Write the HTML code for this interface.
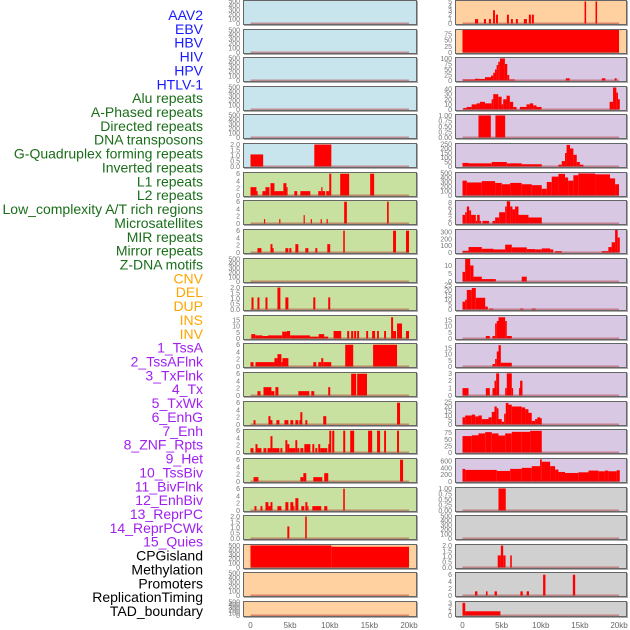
<!DOCTYPE html>
<html><head><meta charset="utf-8"><style>
html,body{margin:0;padding:0;background:#fff;width:630px;height:630px;overflow:hidden}
svg{display:block}
text{font-family:"Liberation Sans",sans-serif}
</style></head><body>
<svg id="chart" width="630" height="630" viewBox="0 0 630 630" xmlns="http://www.w3.org/2000/svg"></svg>
<script>
// ---- Left labels ----
const labelNames = ["AAV2","EBV","HBV","HIV","HPV","HTLV-1","Alu repeats","A-Phased repeats","Directed repeats","DNA transposons","G-Quadruplex forming repeats","Inverted repeats","L1 repeats","L2 repeats","Low_complexity A/T rich regions","Microsatellites","MIR repeats","Mirror repeats","Z-DNA motifs","CNV","DEL","DUP","INS","INV","1_TssA","2_TssAFlnk","3_TxFlnk","4_Tx","5_TxWk","6_EnhG","7_Enh","8_ZNF_Rpts","9_Het","10_TssBiv","11_BivFlnk","12_EnhBiv","13_ReprPC","14_ReprPCWk","15_Quies","CPGisland","Methylation","Promoters","ReplicationTiming","TAD_boundary"];
const labelGroups = [6,13,5,15,5]; // blue, green, orange, purple, black
const xTickLabels = ["0","5kb","10kb","15kb","20kb"];
const xTickValues = [0,5,10,15,20];

// ---- Column 1 data: [startKb, endKb, value] ----
const c1r5 = [[0,1.6,1.1],[8.05,10.2,2.0]];
const c1r6 = [[0,0.75,2.3],[0.75,0.88,1.2],[1.5,1.89,1.2],[1.89,2.39,2.3],[2.52,3.02,3.4],[3.02,4.15,1.2],[4.15,4.53,3.4],[4.53,4.65,2.3],[5.53,5.9,1.2],[6.29,7.55,1.2],[8.55,8.93,1.2],[8.93,9.06,2.3],[9.06,9.43,1.2],[9.56,9.94,1.2],[9.94,10.19,6],[11.32,12.45,6],[15.1,15.6,6]];
const c1r7 = [[1.7,1.85,1.2],[3.62,3.77,1.2],[6.7,6.85,2.3],[7.6,7.75,1.2],[8.85,9.0,1.2],[9.6,9.75,1.2],[11.82,12.16,6],[17.23,17.44,6]];
const c1r8 = [[0.88,1.38,1.2],[2.52,2.77,2.3],[2.77,2.9,1.2],[4.4,4.78,1.2],[4.9,5.16,1.2],[5.66,6.04,2.3],[6.92,7.3,1.2],[8.18,8.43,1.2],[9.69,10.06,2.3],[11.7,11.9,6],[17.99,18.36,6],[19.62,20,6]];
const c1r10 = [[0.13,0.38,1.1],[0.88,1.13,1.1],[1.89,2.14,1.1],[3.4,3.77,2.0],[4.4,4.78,1.1],[7.92,8.18,1.1],[9.81,10.06,1.1]];
const c1r11 = [[0.1,0.6,3.5],[0.6,1.5,2.5],[1.5,2.2,2],[2.2,3.4,2.5],[3.4,4.0,2.5],[4.0,4.6,5.5],[4.6,5.0,6],[5.0,6.5,2.5],[6.5,7.5,2.5],[7.5,8.6,1.5],[8.6,9.3,3.5],[9.3,9.8,1.5],[10.48,11.45,6],[12.2,12.45,6],[12.7,12.96,6],[13.08,13.33,6],[13.46,13.7,6],[14.6,14.84,6],[15.35,15.72,6],[15.97,16.2,6],[16.86,17.1,6],[17.74,17.99,17],[17.99,18.36,6],[18.49,19.12,12],[19.62,20,6]];
const c1r12 = [[0,0.38,1.2],[0.63,3.02,1.2],[3.02,3.4,2.3],[3.4,3.9,3.4],[3.9,4.03,1.2],[4.03,4.78,2.3],[7.92,8.3,1.2],[8.55,8.93,1.2],[8.93,9.18,2.3],[9.18,10.19,1.2],[11.95,12.96,6],[15.47,18.49,6]];
const c1r13 = [[0.88,1.26,1.2],[1.64,2.64,2.3],[2.64,3.02,1.2],[3.14,3.52,2.3],[6.04,7.42,1.2],[7.67,8.05,1.2],[9.81,10.06,2.3],[12.7,13.33,6],[13.46,14.7,6]];
const c1r14 = [[0.38,0.63,1.2],[2.26,2.52,2.3],[2.52,2.77,1.2],[3.27,3.65,1.2],[4.28,4.78,1.2],[5.03,5.4,1.2],[5.66,6.04,1.2],[6.16,6.41,1.2],[6.29,6.54,3.4],[6.92,7.17,1.2],[9.18,9.56,2.3],[18.49,18.87,6]];
const c1r15 = [[0,0.38,1.2],[0.63,0.88,2.3],[0.88,1.38,1.2],[1.64,2.0,1.2],[2.14,2.52,1.2],[2.52,2.77,4.5],[2.77,3.65,1.2],[3.77,4.03,1.2],[4.4,4.65,3.4],[4.65,4.9,2.3],[4.9,5.66,1.2],[5.66,5.9,3.4],[5.9,6.16,1.2],[6.29,6.67,1.2],[6.79,7.55,2.3],[7.8,8.05,2.3],[8.18,8.43,1.2],[8.55,8.8,2.3],[8.8,9.69,1.2],[9.81,10.06,2.3],[9.94,10.19,6],[10.31,10.57,6],[11.7,11.95,6],[12.58,13.08,6],[14.84,15.35,6],[15.97,16.35,6],[16.86,17.1,6],[18.49,18.74,6]];
const c1r16 = [[0.38,1.0,1.2],[6.29,6.67,1.2],[6.67,7.04,2.3],[7.92,9.06,1.2],[9.3,9.81,2.3],[18.87,19.25,6]];
const c1r17 = [[0.5,0.75,1.2],[1.26,1.5,1.2],[1.89,2.26,2.3],[2.26,2.52,1.2],[2.52,2.77,2.3],[3.4,3.9,1.2],[4.4,4.78,2.3],[5.03,5.4,2.3],[5.4,5.53,1.2],[5.66,6.04,3.4],[6.41,6.79,1.2],[6.92,7.17,2.3],[7.17,7.3,1.2],[7.8,8.93,1.2],[9.3,9.69,1.2],[11.7,11.9,6]];
const c1r18 = [[4.65,4.9,1.1],[6.9,7.1,2.0]];
const c1r19 = [[0,10.2,500],[10.2,20,470]];

// ---- Column 2 data ----
const c2r0 = [[1.6,2.0,1],[2.74,3.0,1],[3.38,3.64,1],[3.9,4.15,3],[4.27,4.53,2],[5.68,5.93,2],[6.19,6.44,1],[6.82,7.08,1],[7.84,8.23,1],[8.48,8.74,2],[8.86,9.12,2],[15.6,15.8,5],[17.0,17.2,5]];
const c2r1 = [[0,20,90]];
const c2r2 = [[0,1.6,5],[1.6,2.1,8],[2.1,2.87,7],[2.87,3.64,15],[3.64,3.93,22],[3.93,4.15,35],[4.15,4.36,50],[4.36,4.57,70],[4.57,4.78,85],[4.78,5.42,100],[5.42,5.72,75],[5.72,5.97,25],[5.97,6.7,5],[13.2,13.7,10],[17.8,18.26,10],[19.45,19.7,10]];
const c2r3 = [[0.1,0.53,3],[0.53,1.17,5],[1.17,1.8,10],[1.8,2.23,12],[2.23,2.87,15],[2.87,3.72,12],[3.72,3.93,20],[3.93,4.57,30],[4.57,5.0,25],[5.0,5.2,10],[5.2,5.63,20],[5.63,6.05,27],[6.05,6.48,15],[6.48,6.9,5],[7.33,8.18,5],[8.18,8.6,10],[8.6,9.03,12],[9.03,9.46,8],[9.46,10.1,5],[18.8,19.24,15],[19.24,19.66,43],[19.66,19.87,33],[19.87,20.1,20]];
const c2r4 = [[2.04,3.62,1],[4.21,5.45,1]];
const c2r5 = [[0,0.77,40],[0.77,3.74,35],[3.74,5.66,50],[5.66,7.57,35],[7.57,10.13,25],[12.26,12.68,20],[12.68,13.1,60],[13.1,13.3,150],[13.3,13.74,240],[13.74,14.17,200],[14.17,14.6,130],[14.6,15.0,50],[15.0,15.45,20]];
const c2r6 = [[0,0.55,330],[0.55,2.47,290],[2.47,4.17,320],[4.17,5.02,280],[5.02,6.09,250],[6.09,7.57,280],[7.57,8.85,250],[8.85,10.13,230],[10.13,10.77,150],[10.77,11.4,300],[11.4,12.26,420],[12.26,13.1,480],[13.1,13.5,400],[13.5,14.17,330],[14.17,14.8,450],[14.8,16.94,490],[16.94,18.85,470],[18.85,19.5,380],[19.5,20,250]];
const c2r7 = [[0,0.34,3.3],[0.34,0.55,4.3],[0.55,0.85,6.5],[0.85,1.1,5],[1.1,1.7,3.3],[1.7,1.87,1],[1.87,2.2,3.3],[2.2,2.38,1],[2.55,3.4,1],[3.83,4.17,1],[4.17,4.68,2.3],[4.68,5.45,4.3],[5.45,5.66,6.5],[5.66,6.09,8.5],[6.09,6.38,6.5],[6.38,6.72,5.4],[6.72,7.15,6.5],[7.15,8.43,3.3],[8.43,10.13,2.3]];
const c2r8 = [[0,0.77,25],[0.77,2.47,80],[2.47,3.96,55],[3.96,5.45,45],[5.45,6.3,115],[6.3,8.21,75],[8.21,9.28,50],[9.28,10.13,45],[10.13,11.2,60],[11.2,11.6,45],[11.83,12.68,20],[17.8,18.64,20],[18.64,19.06,80],[19.06,19.5,150],[19.5,19.83,330],[19.83,20.1,220]];
const c2r9 = [[0,0.34,6],[0.34,0.98,14],[0.98,1.4,10],[1.4,2.47,3],[2.47,2.98,1.5],[2.98,4.26,1.5],[7.57,8.21,3]];
const c2r10 = [[0,0.34,8],[0.34,0.55,10],[0.55,1.19,20],[1.19,1.7,22],[1.7,2.9,12],[2.9,3.23,3],[3.4,3.96,1],[7.36,7.79,1],[8.85,9.36,1]];
const c2r11 = [[2.98,3.49,2],[3.83,4.17,2],[4.17,4.38,12],[4.38,4.6,14],[4.6,5.45,17],[5.45,5.66,14],[5.66,6.3,2]];
const c2r12 = [[3.83,4.17,2],[4.17,4.38,6],[4.38,4.6,12],[4.6,4.9,17],[4.9,5.02,3],[5.02,6.3,3]];
const c2r13 = [[0,0.77,1],[2.98,3.49,1],[3.83,4.09,1],[4.09,4.3,2],[4.3,4.68,3],[5.45,5.66,1],[5.66,6.3,3],[6.3,6.47,1],[7.23,7.66,1],[7.36,7.66,2]];
const c2r14 = [[0,0.34,8],[0.34,1.19,10],[1.19,1.62,11],[1.62,2.04,9],[2.04,2.47,10],[2.47,3.32,6],[3.32,3.74,8],[3.74,4.09,14],[4.09,4.38,20],[4.38,4.6,18],[4.6,5.02,6],[5.02,5.32,3],[5.32,5.53,12],[5.53,5.87,24],[5.87,6.3,22],[6.3,7.57,20],[7.57,8.0,19],[8.0,8.43,17],[8.43,8.85,13],[8.85,9.28,4],[9.28,9.57,6],[9.57,9.91,8],[9.91,10.13,7]];
const c2r15 = [[0,1.19,62],[1.19,2.04,65],[2.04,2.9,72],[2.9,3.74,77],[3.74,4.6,72],[4.6,5.45,64],[5.45,6.3,72],[6.3,7.57,78],[7.57,8.64,78],[8.64,10.13,82]];
const c2r16 = [[0,0.34,370],[0.34,4.38,340],[4.38,6.09,310],[6.09,7.57,370],[7.57,8.85,400],[8.85,9.91,450],[9.91,10.13,650],[10.13,11.2,580],[11.2,11.83,450],[11.83,12.26,350],[12.26,13.1,280],[13.1,14.8,250],[14.8,16.1,270],[16.1,17.36,320],[17.36,18.2,300],[18.2,18.64,320],[18.64,19.7,300],[19.7,20.1,330]];
const c2r17 = [[4.6,5.53,1]];
const c2r19 = [[4.5,4.9,1.1],[4.9,5.2,2.0],[5.2,5.5,1.1],[6.1,6.3,1.1]];
const c2r20 = [[1.6,1.9,1.2],[3.0,3.2,1.2],[4.1,4.4,1.2],[7.4,7.7,1.2],[8.2,8.5,1.2],[10.3,10.6,6],[14.1,14.4,6]];
const c2r21 = [[0,0.35,3],[0.35,4.85,1]];

// ---- Y-axis tick sets ----
const t500 = [0,100,200,300,400,500];
const t2 = [0,0.5,1.0,1.5,2.0];
const t6 = [0,2,4,6];
const t15 = [0,5,10,15];
const t5 = [0,1,2,3,4,5];
const t75 = [0,25,50,75];
const t100 = [0,25,50,75,100];
const t40 = [0,10,20,30,40];
const t1 = [0,0.25,0.5,0.75,1.0];
const t250 = [0,50,100,150,200,250];
const t8 = [0,2,4,6,8];
const t300 = [0,100,200,300];
const t10 = [0,5,10];
const t25 = [0,5,10,15,20,25];
const t600 = [0,200,400,600];
const t3 = [0,1,2,3];

const BLUE="#c8e4ec", GREEN="#c8e0a0", ORANGE="#ffd0a0", PURPLE="#d8c8e4", GRAY="#d0d0d0";
const col1 = [
 [BLUE,null,500,t500,0],[BLUE,null,500,t500,0],[BLUE,null,500,t500,0],[BLUE,null,500,t500,0],[BLUE,null,500,t500,0],
 [BLUE,c1r5,2.05,t2,1],[GREEN,c1r6,6.2,t6,0],[GREEN,c1r7,6.2,t6,0],[GREEN,c1r8,6.2,t6,0],[GREEN,null,500,t500,0],
 [GREEN,c1r10,2.05,t2,1],[GREEN,c1r11,18,t15,0],[GREEN,c1r12,6.2,t6,0],[GREEN,c1r13,6.2,t6,0],[GREEN,c1r14,6.2,t6,0],
 [GREEN,c1r15,6.2,t6,0],[GREEN,c1r16,6.2,t6,0],[GREEN,c1r17,6.2,t6,0],[GREEN,c1r18,2.05,t2,1],[ORANGE,c1r19,510,t500,0],
 [ORANGE,null,500,t500,0],[ORANGE,null,500,t500,0]];
const col2 = [
 [ORANGE,c2r0,5.1,t5,0],[ORANGE,c2r1,90,t75,0],[PURPLE,c2r2,102,t100,0],[PURPLE,c2r3,44,t40,0],[PURPLE,c2r4,1.02,t1,2],
 [PURPLE,c2r5,250,t250,0],[PURPLE,c2r6,500,t500,0],[PURPLE,c2r7,8.6,t8,0],[PURPLE,c2r8,330,t300,0],[PURPLE,c2r9,14,t10,0],
 [PURPLE,c2r10,23,t25,0],[PURPLE,c2r11,18,t15,0],[PURPLE,c2r12,18,t15,0],[PURPLE,c2r13,3.05,t3,0],[PURPLE,c2r14,25,t25,0],
 [PURPLE,c2r15,85,t75,0],[PURPLE,c2r16,660,t600,0],[GRAY,c2r17,1.02,t1,2],[GRAY,null,500,t500,0],[GRAY,c2r19,2.05,t2,1],
 [GRAY,c2r20,6.5,t6,0],[GRAY,c2r21,3.2,t3,0]];

const NS="http://www.w3.org/2000/svg";
const svg=document.getElementById("chart");
function mk(tag,attrs,parent){const e=document.createElementNS(NS,tag);for(const k in attrs)e.setAttribute(k,attrs[k]);(parent||svg).appendChild(e);return e;}

// labels
const groupColors=["#1a1aff","#1a6e1a","#ffa500","#a020f0","#000000"];
let gi=0,cnt=0;
const labelStep=(611-15)/(labelNames.length-1);
labelNames.forEach((n,i)=>{
  while(cnt>=labelGroups[gi]){cnt-=labelGroups[gi];gi++;}
  cnt++;
  const t=mk("text",{x:203,y:15+i*labelStep+5,"text-anchor":"end","font-size":"14",fill:groupColors[gi]});
  t.textContent=n;
  
  
});

function rowTop(i){return Math.round(i*28.62);}
function drawCol(cfg,px,pw,x0,x20,cname){
  const xs=kb=>x0+(x20-x0)*kb/20;
  cfg.forEach((p,i)=>{
    const top=rowTop(i), h=(i===cfg.length-1)?16:25;
    const g=mk("g",{});
    
    
    mk("rect",{x:px+1,y:top+1,width:pw,height:h,fill:"#aaa"},g);
    mk("rect",{x:px+0.5,y:top+0.5,width:pw-1,height:h-1,fill:p[0],stroke:"#666","stroke-width":1},g);
    const base=top+h-1.5, ph=h-2.5;
    const ys=v=>base-ph*v/p[2];
    // ticks
    p[3].forEach(v=>{
      const tt=mk("text",{x:px-3,y:ys(v)+2.5,"text-anchor":"end","font-size":"7",fill:"#777"},g);
      tt.textContent=p[4]===2?v.toFixed(2):(p[4]===1?v.toFixed(1):String(v));
      
      
    });
    if(p[1]){
      p[1].forEach(s=>{
        const y=Math.max(ys(s[2]),top+1);
        const r=mk("rect",{x:xs(s[0]),y:y,width:Math.max(xs(s[1])-xs(s[0]),1.2),height:base-y,fill:"#ff0000"},g);
        
        
      });
    }
    const bl=mk("rect",{x:x0,y:base-1,width:x20-x0,height:1.5,fill:"rgba(170,40,40,0.45)"},g);
    
    
  });
  xTickValues.forEach((v,k)=>{
    const t=mk("text",{x:xs(v),y:628,"text-anchor":"middle","font-size":"8",fill:"#666"});
    t.textContent=xTickLabels[k];
    
    
  });
}
drawCol(col1,243,174,250.5,409,"left");
drawCol(col2,455,172,462.5,619,"right");
</script>
</body></html>
